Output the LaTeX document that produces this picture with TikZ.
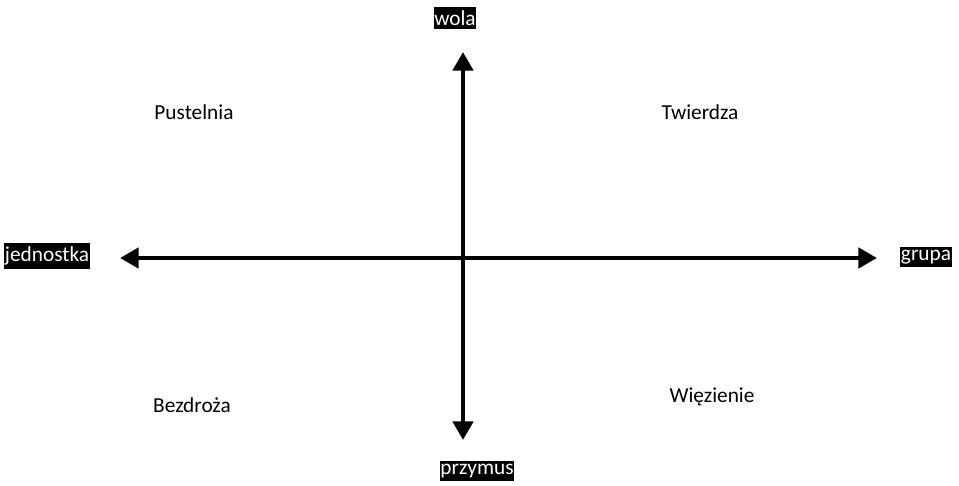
\documentclass[tikz,border=0pt]{standalone}
\usepackage{fontspec}
\setmainfont{Carlito}
\usetikzlibrary{arrows.meta}
\begin{document}
\begin{tikzpicture}[x=0.75pt,y=-0.75pt,
  axislabel/.style={fill=black,text=white,inner xsep=0.5pt,inner ysep=2.5pt,font=\fontsize{16}{18}\selectfont},
  quadlabel/.style={inner sep=0pt,font=\fontsize{16}{18}\selectfont},
  axis/.style={line width=3.6pt,{Triangle[length=14pt,width=15pt]}-{Triangle[length=14pt,width=15pt]}}]
\useasboundingbox (0,0) rectangle (959,485);
\coordinate (top) at (463,52);
\coordinate (bot) at (463,440);
\coordinate (left) at (120,258);
\coordinate (right) at (877,258);
\draw[axis] (left) -- (right);
\draw[axis] (bot) -- (top);
\node[axislabel] (wola) at (455,18) {wola};
\node[axislabel] (przymus) at (477,471) {przymus};
\node[axislabel] (jednostka) at (47,256) {jednostka};
\node[axislabel] (grupa) at (926,257) {grupa};
\node[quadlabel] (pustelnia) at (194,112) {Pustelnia};
\node[quadlabel] (twierdza) at (700,112) {Twierdza};
\node[quadlabel] (bezdroza) at (192,405) {Bezdroża};
\node[quadlabel] (wiezienie) at (712,397) {Więzienie};
\end{tikzpicture}
\end{document}
